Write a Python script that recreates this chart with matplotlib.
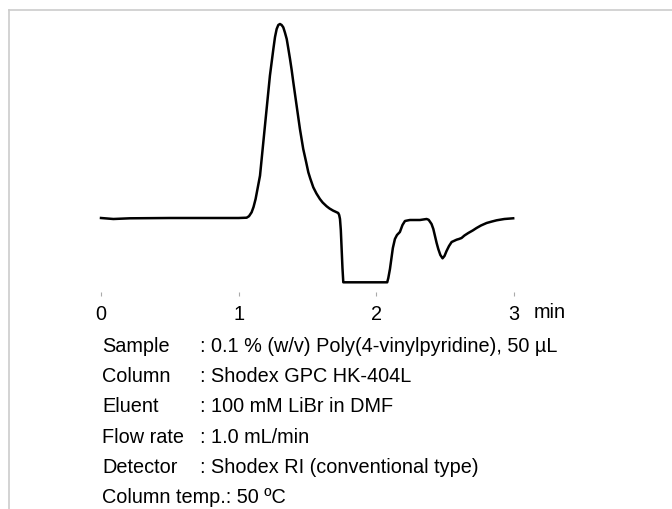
import matplotlib
matplotlib.use("Agg")
import matplotlib.pyplot as plt
from matplotlib.lines import Line2D

plt.rcParams['font.family'] = ['Liberation Sans', 'DejaVu Sans']

# retention time (min) and detector signal (arbitrary units, baseline = 0)
time_min = [0.00, 0.09, 0.21, 0.50, 0.80, 1.00, 1.058, 1.075, 1.094, 1.108,
            1.123, 1.155, 1.179, 1.203, 1.227, 1.252, 1.264, 1.276, 1.288,
            1.300, 1.312, 1.324, 1.336, 1.349, 1.360, 1.373, 1.385, 1.397,
            1.421, 1.445, 1.469, 1.490, 1.506, 1.520, 1.542, 1.565, 1.590,
            1.610, 1.639, 1.660, 1.687, 1.700, 1.723, 1.730, 1.736, 1.742,
            1.748, 1.754, 1.760, 2.079, 2.087, 2.099, 2.110, 2.120, 2.135,
            2.150, 2.171, 2.190, 2.208, 2.225, 2.244, 2.317, 2.365, 2.380,
            2.401, 2.414, 2.426, 2.438, 2.450, 2.465, 2.481, 2.495, 2.510,
            2.528, 2.547, 2.583, 2.600, 2.619, 2.640, 2.668, 2.700, 2.728,
            2.760, 2.801, 2.840, 2.874, 2.930, 2.994]
signal = [0.0, -1.0, -0.3, 0.0, 0.0, 0.0, 0.3, 1.8, 5.7, 11.0,
          19.0, 42.3, 75.7, 109.0, 142.3, 169.0, 181.0, 189.0, 193.0,
          194.0, 193.0, 190.7, 185.5, 179.0, 170.0, 159.0, 148.0, 135.7,
          112.3, 89.0, 69.0, 56.0, 45.7, 39.5, 30.7, 24.5, 19.0,
          15.5, 11.7, 9.5, 7.3, 6.5, 5.0, 3.0, -1.0, -12.0,
          -31.0, -50.0, -64.3, -64.3, -60.0, -51.0, -40.0, -30.0, -21.0,
          -17.0, -14.0, -7.0, -3.0, -2.5, -2.0, -2.0, -1.0, -1.8,
          -6.0, -11.0, -18.0, -25.0, -31.0, -37.0, -40.3, -38.0, -33.0,
          -28.0, -24.0, -21.7, -21.0, -20.0, -17.5, -15.0, -12.5, -10.0,
          -7.5, -5.0, -3.5, -2.3, -1.0, -0.3]

x_ticks = [0, 1, 2, 3]

cond_labels = ["Sample", "Column", "Eluent", "Flow rate", "Detector"]
cond_values = [": 0.1 % (w/v) Poly(4-vinylpyridine), 50 µL",
               ": Shodex GPC HK-404L",
               ": 100 mM LiBr in DMF",
               ": 1.0 mL/min",
               ": Shodex RI (conventional type)"]
last_row = "Column temp.: 50 ºC"

W, H = 672, 510
fig = plt.figure(figsize=(W / 100, H / 100), dpi=100)

# axes placed so that t=0 -> x=101px, t=3 -> x=514px
px_per_min = (514 - 101) / 3
x0, x1 = -0.1, 3.1
left = 101 + x0 * px_per_min
width = (x1 - x0) * px_per_min
top_px, bot_px = 20, 297
ax = fig.add_axes([left / W, 1 - bot_px / H, width / W, (bot_px - top_px) / H])
ax.plot(time_min, signal, color="black", lw=1.8, solid_joinstyle="round")
ax.set_xlim(x0, x1)
ax.set_ylim(219 - bot_px, 219 - top_px)
for s in ax.spines.values():
    s.set_visible(False)
ax.set_yticks([])
ax.set_xticks(x_ticks)
ax.set_xticklabels([str(t) for t in x_ticks], fontsize=14.3)
ax.tick_params(axis="x", direction="in", length=3, width=0.8,
               color="#aaaaaa", pad=6)

fig.text(550 / W, 1 - 313 / H, "min", fontsize=14.3, ha="center", va="center")

# light frame at top and left
fig.add_artist(Line2D([8.5 / W, 8.5 / W], [0, 1 - 10.5 / H],
                      color="#cccccc", lw=1.2, transform=fig.transFigure))
fig.add_artist(Line2D([8.5 / W, 1], [1 - 10.5 / H, 1 - 10.5 / H],
                      color="#cccccc", lw=1.2, transform=fig.transFigure))

baselines = [352, 382, 412, 443, 473]
for lab, val, yb in zip(cond_labels, cond_values, baselines):
    fig.text(102 / W, 1 - yb / H, lab, fontsize=14.3, va="baseline")
    fig.text(200 / W, 1 - yb / H, val, fontsize=14.3, va="baseline")
fig.text(102 / W, 1 - 503 / H, last_row, fontsize=14.3, va="baseline")

fig.savefig("out.png", dpi=100)
